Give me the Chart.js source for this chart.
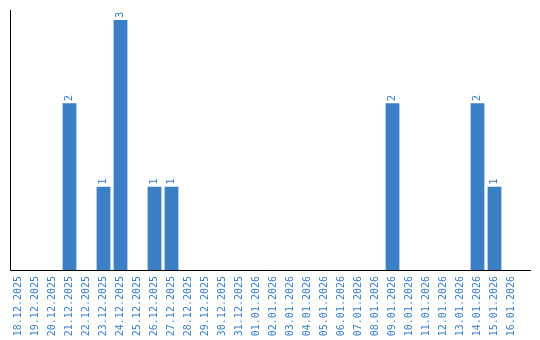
<!DOCTYPE html>
<html>
<head>
<meta charset="utf-8">
<script src="https://cdn.jsdelivr.net/npm/chart.js@4/dist/chart.umd.min.js"></script>
<style>
    html, body { margin: 0; padding: 0; background: #fff; }
    #chart { display: block; }
</style>
</head>
<body>
<canvas id="chart" width="540" height="340"></canvas>
<script>
// --- Data ---
const days = [
    "18.12.2025", "19.12.2025", "20.12.2025", "21.12.2025", "22.12.2025",
    "23.12.2025", "24.12.2025", "25.12.2025", "26.12.2025", "27.12.2025",
    "28.12.2025", "29.12.2025", "30.12.2025", "31.12.2025", "01.01.2026",
    "02.01.2026", "03.01.2026", "04.01.2026", "05.01.2026", "06.01.2026",
    "07.01.2026", "08.01.2026", "09.01.2026", "10.01.2026", "11.01.2026",
    "12.01.2026", "13.01.2026", "14.01.2026", "15.01.2026", "16.01.2026"
];
const counts = [
    0, 0, 0, 2, 0,
    1, 3, 0, 1, 1,
    0, 0, 0, 0, 0,
    0, 0, 0, 0, 0,
    0, 0, 2, 0, 0,
    0, 0, 2, 1, 0
];

const BLUE = "#3b7fc4";
const FONT = "DejaVu Sans Mono";

// --- Value labels above bars, rotated ---
const valueLabels = {
    id: "valueLabels",
    afterDatasetsDraw(chart) {
        const ctx = chart.ctx;
        const meta = chart.getDatasetMeta(0);
        ctx.save();
        ctx.fillStyle = BLUE;
        ctx.font = "10.5px '" + FONT + "'";
        ctx.textAlign = "left";
        ctx.textBaseline = "middle";
        meta.data.forEach((bar, i) => {
            if (!counts[i]) return;
            ctx.save();
            ctx.translate(bar.x, bar.y - 2);
            ctx.rotate(-Math.PI / 2);
            ctx.fillText(String(counts[i]), 0, 0);
            ctx.restore();
        });
        ctx.restore();
    }
};

// --- Axis lines (x line runs a bit past the last category) ---
const axisLines = {
    id: "axisLines",
    afterDraw(chart) {
        const { ctx, chartArea } = chart;
        const x0 = Math.round(chartArea.left) + 0.5;
        const y0 = Math.round(chartArea.bottom) + 0.5;
        ctx.save();
        ctx.strokeStyle = "#000";
        ctx.lineWidth = 1;
        ctx.beginPath();
        ctx.moveTo(x0, chartArea.top);
        ctx.lineTo(x0, y0);
        ctx.lineTo(chartArea.right + 11, y0);
        ctx.stroke();
        ctx.restore();
    }
};

new Chart(document.getElementById("chart"), {
    type: "bar",
    data: {
        labels: days,
        datasets: [{
            data: counts,
            backgroundColor: BLUE,
            barPercentage: 0.9,
            categoryPercentage: 0.9
        }]
    },
    options: {
        responsive: false,
        animation: false,
        layout: { padding: { left: 2, top: 10, right: 20, bottom: 2 } },
        plugins: { legend: { display: false }, tooltip: { enabled: false } },
        scales: {
            x: {
                grid: { display: false, drawTicks: false },
                border: { display: false },
                afterFit(scale) { scale.height = 68; },
                ticks: {
                    color: BLUE,
                    font: { family: FONT, size: 10 },
                    minRotation: 90,
                    maxRotation: 90,
                    autoSkip: false,
                    padding: 6
                }
            },
            y: {
                min: 0,
                max: Math.max(...counts) * 1.04,
                grid: { display: false },
                border: { display: false },
                ticks: { display: false }
            }
        }
    },
    plugins: [valueLabels, axisLines]
});
</script>
</body>
</html>
